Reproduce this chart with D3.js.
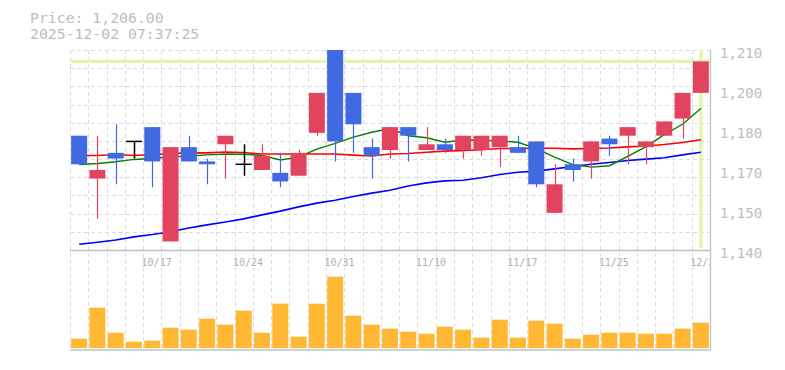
<!DOCTYPE html>
<html>
<head>
<meta charset="utf-8">
<script src="https://cdn.jsdelivr.net/npm/d3@7"></script>
<style>
  html, body { margin: 0; padding: 0; background: #fff; }
  svg { display: block; }
  text { font-family: "DejaVu Sans Mono", monospace; }
</style>
</head>
<body>
<svg id="chart" width="785" height="370"></svg>
<script>
// ---- data ----
const dates = ["10/10","10/14","10/15","10/16","10/17","10/20","10/21","10/22","10/23","10/24",
               "10/27","10/28","10/29","10/30","10/31","11/4","11/5","11/6","11/7","11/10",
               "11/11","11/12","11/13","11/14","11/17","11/18","11/19","11/20","11/21","11/25",
               "11/26","11/27","11/28","12/1","12/2"];
const openP  = [1180,1165,1174,1178,1183,1143,1176,1171,1177,1170,1168,1167,1166,1181,1210,1195,1176,1175,1183,1175,
                1177,1175,1175,1176,1176,1178,1153,1170,1171,1179,1180,1176,1180,1186,1195];
const highP  = [1180,1180,1184,1178,1183,1176,1180,1172,1180,1177,1177,1174,1175,1195,1210,1195,1179,1183,1183,1183,
                1179,1180,1180,1180,1180,1178,1170,1172,1178,1180,1183,1178,1185,1195,1206];
const lowP   = [1170,1151,1163,1172,1162,1143,1171,1163,1165,1166,1168,1162,1166,1180,1171,1174,1165,1172,1171,1175,
                1174,1172,1173,1169,1174,1162,1153,1164,1165,1173,1170,1170,1180,1179,1195];
const closeP = [1170,1168,1172,1178,1171,1176,1171,1170,1180,1170,1173,1164,1174,1195,1178,1184,1173,1183,1180,1177,
                1175,1180,1180,1180,1174,1163,1163,1168,1178,1177,1183,1178,1185,1195,1206];
const volume = [28,121,46,19,22,61,55,88,70,112,46,133,34,133,214,97,70,58,49,43,
                64,55,31,85,31,82,73,28,40,46,46,43,43,58,76];
const maShort = [1169.9,1170.3,1170.9,1171.7,1172.0,1172.6,1172.9,1173.3,1173.6,1173.5,
                 1173.1,1171.5,1172.5,1175.3,1177.3,1179.5,1181.2,1182.5,1180.0,1179.3,
                 1177.7,1178.5,1178.4,1178.2,1177.7,1175.5,1172.5,1169.9,1169.0,1169.5,
                 1172.8,1176.2,1180.4,1184.0,1189.5];
const maMid = [1173.1,1173.1,1173.4,1173.1,1173.4,1173.8,1174.0,1174.0,1174.3,1174.1,
               1173.6,1173.6,1173.6,1173.6,1173.6,1173.2,1172.9,1173.6,1173.8,1174.2,
               1174.6,1174.8,1175.1,1175.5,1175.5,1175.6,1175.6,1175.4,1175.5,1175.7,
               1176.1,1176.4,1176.9,1177.6,1178.6];
const maLong = [1142.0,1142.7,1143.5,1144.6,1145.4,1146.4,1147.7,1148.8,1149.8,1150.9,
                1152.3,1153.6,1155.1,1156.4,1157.4,1158.7,1159.9,1160.9,1162.4,1163.5,
                1164.2,1164.4,1165.3,1166.4,1167.2,1167.6,1168.4,1169.2,1170.0,1170.6,
                1171.3,1171.8,1172.3,1173.3,1174.2];
const lastPrice = 1206;
const priceTicks = [1140,1154,1168,1182,1196,1210];
const priceTickLabels = ["1,140","1,150","1,170","1,180","1,200","1,210"];
const dateLabels = ["10/17","10/24","10/31","11/10","11/17","11/25","12/2"];
const headerLines = ["Price: 1,206.00","2025-12-02 07:37:25"];

// ---- layout ----
const svg = d3.select("#chart");
const left = 70, right = 710, pTop = 50, pBottom = 250, vTop = 248, vBottom = 348, vLine = 350;
const n = dates.length;

const x = d3.scaleBand().domain(d3.range(n)).range([left, right]).padding(0);
const bw = x.bandwidth();
const cw = 16;
const cx = i => x(i) + bw / 2;
const y = d3.scaleLinear().domain([1140, 1210]).range([pBottom, pTop]);
const vy = d3.scaleLinear().domain([0, 300]).range([vBottom, vTop]);

const gridColor = "#dcdcdc";
const upColor = "#e2445f";
const downColor = "#4169e1";

// clip
const defs = svg.append("defs");
defs.append("clipPath").attr("id", "plotClip")
  .append("rect").attr("x", left).attr("y", pTop).attr("width", right - left).attr("height", vLine - pTop);

// header text
svg.append("g").selectAll("text").data(headerLines).join("text")
  .attr("x", 30).attr("y", (d, i) => 23 + i * 15.5)
  .attr("fill", "#bdbdbd").attr("font-size", 14.8)
  .text(d => d);

// horizontal grid (price panel)
const hGrid = d3.range(12).map(k => 1140 + k * 70 / 11);
svg.append("g").selectAll("line").data(hGrid.slice(1)).join("line")
  .attr("x1", left).attr("x2", right)
  .attr("y1", d => Math.round(y(d)) + 0.5).attr("y2", d => Math.round(y(d)) + 0.5)
  .attr("stroke", gridColor).attr("stroke-dasharray", "4,3");

// vertical grid (both panels) at band boundaries
svg.append("g").selectAll("line").data(d3.range(n)).join("line")
  .attr("x1", i => Math.round(x(i)) + 0.5).attr("x2", i => Math.round(x(i)) + 0.5)
  .attr("y1", pTop).attr("y2", vLine)
  .attr("stroke", gridColor).attr("stroke-dasharray", "4,3");

// x date labels (top of volume panel), clipped
const idxOf = d => dates.indexOf(d);
svg.append("g").attr("clip-path", "url(#plotClip)")
  .selectAll("text").data(dateLabels).join("text")
  .attr("x", d => cx(idxOf(d)) - 10.7).attr("y", 266)
  .attr("fill", "#b0b0b0").attr("font-size", 10)
  .text(d => d);

// last price highlight lines
svg.append("line")
  .attr("x1", left).attr("x2", right)
  .attr("y1", y(lastPrice)).attr("y2", y(lastPrice))
  .attr("stroke", "#e4f5a6").attr("stroke-width", 3.3);
svg.append("line")
  .attr("x1", cx(n - 1)).attr("x2", cx(n - 1))
  .attr("y1", pTop).attr("y2", pBottom - 2)
  .attr("stroke", "#e4f5a6").attr("stroke-width", 3.3);

// moving averages (below candles)
const lineGen = arr => d3.line().x((d, i) => cx(i)).y(d => y(d))(arr);
const maG = svg.append("g").attr("clip-path", "url(#plotClip)");
maG.append("path").attr("d", lineGen(maLong)).attr("fill", "none").attr("stroke", "#0000ff").attr("stroke-width", 1.6);
maG.append("path").attr("d", lineGen(maMid)).attr("fill", "none").attr("stroke", "#ff0000").attr("stroke-width", 1.6);
maG.append("path").attr("d", lineGen(maShort)).attr("fill", "none").attr("stroke", "#008000").attr("stroke-width", 1.4);

// candles
const candles = d3.range(n).map(i => ({i, o: openP[i], h: highP[i], l: lowP[i], c: closeP[i]}));
const colorOf = d => d.c > d.o ? upColor : (d.c < d.o ? downColor : "#000000");
const cg = svg.append("g").attr("clip-path", "url(#plotClip)");
cg.selectAll("line.wick").data(candles).join("line").attr("class", "wick")
  .attr("x1", d => Math.round(cx(d.i)) + 0.5).attr("x2", d => Math.round(cx(d.i)) + 0.5)
  .attr("y1", d => y(d.h)).attr("y2", d => y(d.l))
  .attr("stroke", colorOf).attr("stroke-width", d => d.c === d.o ? 1.5 : 1.2);
cg.selectAll("rect.body").data(candles.filter(d => d.c !== d.o)).join("rect").attr("class", "body")
  .attr("x", d => cx(d.i) - cw / 2).attr("width", cw)
  .attr("y", d => y(Math.max(d.o, d.c)))
  .attr("height", d => Math.abs(y(d.o) - y(d.c)))
  .attr("fill", colorOf);
cg.selectAll("line.doji").data(candles.filter(d => d.c === d.o)).join("line").attr("class", "doji")
  .attr("x1", d => cx(d.i) - cw / 2).attr("x2", d => cx(d.i) + cw / 2)
  .attr("y1", d => y(d.o)).attr("y2", d => y(d.o))
  .attr("stroke", "#000").attr("stroke-width", 1.5);

// volume bars
svg.append("g").selectAll("rect").data(volume).join("rect")
  .attr("x", (d, i) => cx(i) - cw / 2).attr("width", cw)
  .attr("y", d => vy(d)).attr("height", d => vy(0) - vy(d))
  .attr("fill", "#ffb833");

// axis lines
svg.append("line").attr("x1", left).attr("x2", right).attr("y1", pBottom + 0.5).attr("y2", pBottom + 0.5)
  .attr("stroke", "#c0c0c0").attr("stroke-width", 1.3);
svg.append("line").attr("x1", left).attr("x2", right).attr("y1", vLine).attr("y2", vLine)
  .attr("stroke", "#c0c0c0").attr("stroke-width", 1.3);
svg.append("line").attr("x1", right + 0.5).attr("x2", right + 0.5).attr("y1", pTop).attr("y2", vLine)
  .attr("stroke", "#c0c0c0").attr("stroke-width", 1.3);

// right price axis labels
const yAxis = d3.axisRight(y).tickValues(priceTicks).tickSize(0).tickPadding(10)
  .tickFormat((d, i) => priceTickLabels[i]);
const ag = svg.append("g").attr("transform", `translate(${right},0)`).call(yAxis);
ag.select(".domain").remove();
ag.selectAll("text").attr("fill", "#bdbdbd").attr("font-size", 14)
  .attr("font-family", "DejaVu Sans Mono, monospace").attr("dy", "0.55em");
</script>
</body>
</html>
